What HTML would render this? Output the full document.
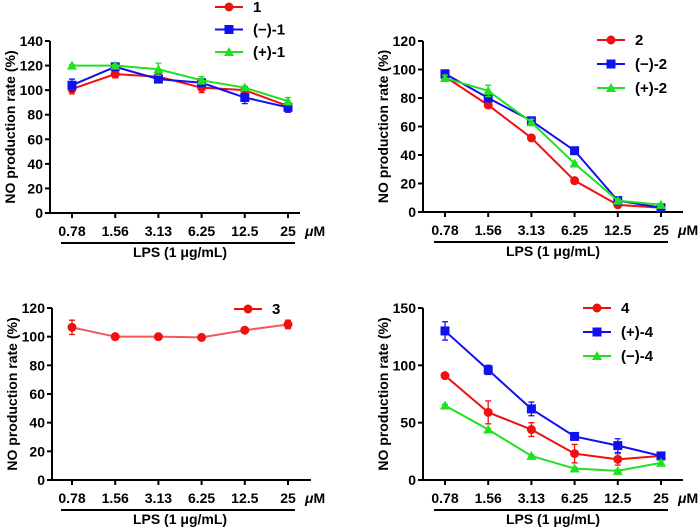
<!DOCTYPE html>
<html><head><meta charset="utf-8"><style>
body{margin:0;background:#fff}
svg{display:block;font-family:"Liberation Sans",Arial,sans-serif;font-weight:bold}
</style></head><body>
<svg id="c" width="700" height="531" viewBox="0 0 700 531"></svg>
<script>
const cats=["0.78","1.56","3.13","6.25","12.5","25"];
const p1Names=["1","(−)-1","(+)-1"];
const p1Red=[101,113,111,102,100,87];
const p1Blue=[104,119,109,106,94,86];
const p1Green=[120,120,117,108,102,91];
const p1RedErr=[4,3,3,4,3,3];
const p1BlueErr=[5,2,3,3,5,4];
const p1GreenErr=[1,1,5,3,1,3];
const p2Names=["2","(−)-2","(+)-2"];
const p2Red=[95,75,52,22,5,3];
const p2Blue=[97,80,64,43,8,3];
const p2Green=[94,85,63,34,8,5];
const p2Err=[1,1,1,1,1,1];
const p2GreenErr=[2,4,2,1,1,1];
const p3Names=["3"];
const p3Red=[106.5,100,100,99.5,104.5,108.5];
const p3RedErr=[5,1,1,1,1,3];
const p4Names=["4","(+)-4","(−)-4"];
const p4Red=[91,59,44,23,18,21];
const p4Blue=[130,96,62,38,30,21];
const p4Green=[65,44,21,10,8,15];
const p4RedErr=[1,10,6,8,5,2];
const p4BlueErr=[8,4,6,3,6,2];
const p4GreenErr=[1,1,1,1,1,2];
const yTicks1=[0,20,40,60,80,100,120,140];
const yTicks2=[0,20,40,60,80,100,120];
const yTicks4=[0,50,100,150];

const NS="http://www.w3.org/2000/svg";
const svg=document.getElementById('c');
function el(t,a,p){const e=document.createElementNS(NS,t);for(const k in a)e.setAttribute(k,a[k]);(p||svg).appendChild(e);return e;}
const COL={r:"#f01010",b:"#1010f0",g:"#20e020"};
function marker(g,type,x,y,c){
  let m;
  if(type==='o')m=el('circle',{cx:x,cy:y,r:4.5,fill:c},g);
  else if(type==='s')m=el('rect',{x:x-4.5,y:y-4.5,width:9,height:9,fill:c},g);
  else m=el('polygon',{points:`${x},${y-5} ${x+5},${y+4} ${x-5},${y+4}`,fill:c},g);
  return m;
}
function panel(cfg){
  const g=el('g',{});
  
  
  const ymax=cfg.ticks[cfg.ticks.length-1];
  const Y=v=>cfg.y0-(v/ymax)*(cfg.y0-cfg.yTop);
  const X=i=>cfg.x0+i*cfg.dx;
  const ya=el('line',{x1:cfg.ax,y1:cfg.yTop,x2:cfg.ax,y2:cfg.y0+1,stroke:"#000","stroke-width":2},g);
  
  const xa=el('line',{x1:cfg.ax-1,y1:cfg.y0,x2:cfg.axEnd,y2:cfg.y0,stroke:"#000","stroke-width":2},g);
  
  cfg.ticks.forEach(t=>{
    el('line',{x1:cfg.ax-5,y1:Y(t),x2:cfg.ax,y2:Y(t),stroke:"#000","stroke-width":2},g);
    const tx=el('text',{x:cfg.ax-7,y:Y(t)+5,"text-anchor":"end","font-size":14},g);
    tx.textContent=t;
    
  });
  cats.forEach((c,i)=>{
    el('line',{x1:X(i),y1:cfg.y0,x2:X(i),y2:cfg.y0+5,stroke:"#000","stroke-width":2},g);
    const tx=el('text',{x:X(i),y:cfg.y0+23,"text-anchor":"middle","font-size":14},g);
    tx.textContent=c;
    
  });
  const um=el('text',{x:X(5)+17,y:cfg.y0+23,"font-size":14},g);
  um.innerHTML='<tspan font-style="italic">μ</tspan>M';
  
  el('line',{x1:X(0)-11,y1:cfg.y0+30,x2:X(5)+7,y2:cfg.y0+30,stroke:"#000","stroke-width":2},g);
  const lps=el('text',{x:(X(0)+X(5))/2,y:cfg.y0+44,"text-anchor":"middle","font-size":14},g);
  lps.textContent='LPS (1 μg/mL)';
  
  const yt=el('text',{x:0,y:0,"text-anchor":"middle","font-size":14,transform:`translate(${cfg.ax-35},${(cfg.y0+cfg.yTop)/2}) rotate(-90)`},g);
  yt.textContent='NO production rate (%)';
  
  cfg.series.forEach((s,si)=>{
    const sg=el('g',{},g);
    
    
    const c=COL[s.c];
    el('polyline',{points:s.v.map((v,i)=>X(i)+','+Y(v)).join(' '),fill:"none",stroke:c,"stroke-width":2,"stroke-opacity":s.op||1},sg);
    s.v.forEach((v,i)=>{
      const e=s.e[i];
      el('path',{d:`M${X(i)},${Y(v+e)}V${Y(v-e)}M${X(i)-3},${Y(v+e)}h6M${X(i)-3},${Y(v-e)}h6`,stroke:c,"stroke-width":1.3,fill:"none"},sg);
      const m=marker(sg,s.m,X(i),Y(v),c);
      
    });
    const ly=cfg.lg.y+si*cfg.lg.dy;
    const lg=el('g',{},g);
    
    el('line',{x1:cfg.lg.x,y1:ly,x2:cfg.lg.x+28,y2:ly,stroke:c,"stroke-width":2},lg);
    marker(lg,s.m,cfg.lg.x+14,ly,c);
    const lt=el('text',{x:cfg.lg.x+38,y:ly+5,"font-size":15},lg);
    lt.textContent=s.label;
  });
}
panel({name:'panel-1',ax:50,axEnd:300,y0:213,yTop:41,x0:72,dx:43.2,ticks:yTicks1,lg:{x:215,y:7,dy:22.5},
 series:[{label:p1Names[0],v:p1Red,e:p1RedErr,c:'r',m:'o'},{label:p1Names[1],v:p1Blue,e:p1BlueErr,c:'b',m:'s'},{label:p1Names[2],v:p1Green,e:p1GreenErr,c:'g',m:'t'}]});
panel({name:'panel-2',ax:423,axEnd:683,y0:212,yTop:41,x0:445,dx:43.2,ticks:yTicks2,lg:{x:597,y:40,dy:24},
 series:[{label:p2Names[0],v:p2Red,e:p2Err,c:'r',m:'o'},{label:p2Names[1],v:p2Blue,e:p2Err,c:'b',m:'s'},{label:p2Names[2],v:p2Green,e:p2GreenErr,c:'g',m:'t'}]});
panel({name:'panel-3',ax:52,axEnd:311,y0:480,yTop:308,x0:72,dx:43.2,ticks:yTicks2,lg:{x:234,y:309,dy:24},
 series:[{label:p3Names[0],v:p3Red,e:p3RedErr,c:'r',m:'o',op:0.7}]});
panel({name:'panel-4',ax:423,axEnd:683,y0:480,yTop:308,x0:445,dx:43.2,ticks:yTicks4,lg:{x:583,y:308,dy:24},
 series:[{label:p4Names[0],v:p4Red,e:p4RedErr,c:'r',m:'o'},{label:p4Names[1],v:p4Blue,e:p4BlueErr,c:'b',m:'s'},{label:p4Names[2],v:p4Green,e:p4GreenErr,c:'g',m:'t'}]});
</script>
</body></html>
